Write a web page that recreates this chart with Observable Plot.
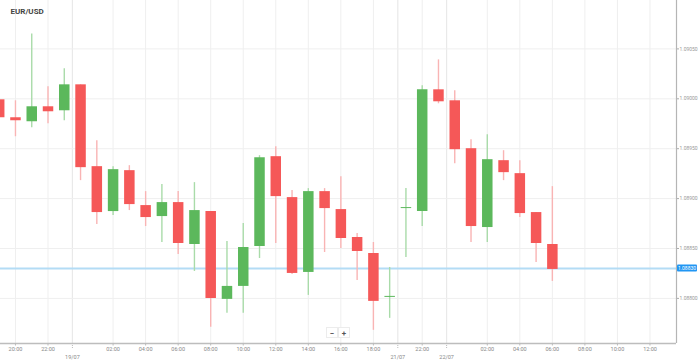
<!DOCTYPE html>
<html><head><meta charset="utf-8">
<script src="https://cdn.jsdelivr.net/npm/d3@7"></script>
<script src="https://cdn.jsdelivr.net/npm/@observablehq/plot@0.6"></script>
<style>
body{margin:0;background:#fff;font-family:Roboto,sans-serif;}
#chart{position:relative;width:699px;height:361px;overflow:hidden;}
</style></head><body><div id="chart"></div>
<script>
const title = "EUR/USD";
const candleIndex = [-1,0,1,2,3,4,5,6,7,8,9,10,11,12,13,14,15,16,17,18,19,20,21,22,23,24,25,26,27,28,29,30,31,32,33];
const open  = [1.08999,1.08981,1.08977,1.08992,1.08988,1.09014,1.08932,1.08887,1.08928,1.08893,1.08882,1.08896,1.08854,1.08887,1.08799,1.08812,1.08852,1.08942,1.08901,1.08826,1.08907,1.08889,1.08861,1.08845,1.08801,1.08890,1.08887,1.09009,1.08998,1.08950,1.08871,1.08938,1.08925,1.08886,1.08854];
const high  = [1.09002,1.08998,1.09065,1.09012,1.09030,1.09014,1.08958,1.08932,1.08933,1.08907,1.08914,1.08907,1.08916,1.08887,1.08857,1.08875,1.08943,1.08952,1.08908,1.08910,1.08910,1.08922,1.08865,1.08856,1.08831,1.08910,1.09013,1.09039,1.09008,1.08959,1.08964,1.08948,1.08938,1.08886,1.08912];
const low   = [1.08975,1.08962,1.08971,1.08975,1.08978,1.08918,1.08874,1.08883,1.08888,1.08872,1.08856,1.08844,1.08827,1.08771,1.08785,1.08785,1.08840,1.08855,1.08824,1.08803,1.08846,1.08850,1.08818,1.08768,1.08780,1.08841,1.08872,1.08995,1.08935,1.08856,1.08856,1.08918,1.08881,1.08836,1.08817];
const close = [1.08981,1.08978,1.08992,1.08987,1.09014,1.08931,1.08886,1.08929,1.08894,1.08881,1.08896,1.08855,1.08888,1.08800,1.08812,1.08851,1.08941,1.08902,1.08825,1.08907,1.08890,1.08860,1.08847,1.08797,1.08802,1.08891,1.09009,1.08997,1.08949,1.08872,1.08939,1.08926,1.08885,1.08855,1.08829];

const timeTickIndex  = [0,2,6,8,10,12,14,16,18,20,22,25,29,31,33,35,37,39];
const timeTickLabels = ["20:00","22:00","02:00","04:00","06:00","08:00","10:00","12:00","14:00","16:00","18:00","22:00","02:00","04:00","06:00","08:00","10:00","12:00"];
const dateTickIndex  = [3.5,23.5,26.5];
const dateTickLabels = ["19/07","21/07","22/07"];
const priceTicks = [1.0880,1.0885,1.0890,1.0895,1.0900,1.0905];
const currentPrice = 1.08830;

const xDomain = [-0.92, 40.63];
const yDomain = [1.087548, 1.090985];

const candles = candleIndex.map((i, k) => ({i, open: open[k], high: high[k], low: low[k], close: close[k], up: close[k] >= open[k]}));
const timeLabel = new Map(timeTickIndex.map((d, k) => [d, timeTickLabels[k]]));
const dateLabel = new Map(dateTickIndex.map((d, k) => [d, dateTickLabels[k]]));

const GREEN = "#5cb85c", RED = "#f55858";
const GREEN_W = "#a9dba9", RED_W = "#f9b4b4";

const chart = Plot.plot({
  width: 699, height: 361,
  marginTop: 0, marginBottom: 18, marginLeft: 0, marginRight: 23,
  style: {fontFamily: "Roboto, sans-serif", background: "#fff", overflow: "visible"},
  x: {type: "linear", domain: xDomain, axis: null, label: null},
  y: {type: "linear", domain: yDomain, axis: null, label: null},
  marks: [
    Plot.gridX(timeTickIndex, {stroke: "#efefef", strokeOpacity: 1}),
    Plot.gridX(dateTickIndex, {stroke: "#e9e9e9", strokeOpacity: 1, strokeWidth: 1.2}),
    Plot.gridY(priceTicks, {stroke: "#efefef", strokeOpacity: 1}),
    Plot.ruleY([currentPrice], {stroke: "#b3dcf5", strokeWidth: 2}),
    Plot.ruleX(candles, {x: "i", y1: "low", y2: "high", stroke: d => d.up ? GREEN_W : RED_W, strokeWidth: 1.4}),
    Plot.ruleX(candles, {x: "i", y1: "open", y2: "close", stroke: d => d.up ? GREEN : RED, strokeWidth: 10.5}),
    Plot.ruleY([yDomain[0]], {stroke: "#bdbdbd", strokeWidth: 1.5}),
    Plot.ruleX([xDomain[1]], {stroke: "#b5b5b5", strokeWidth: 1.2}),
    Plot.axisX(timeTickIndex, {label: null, tickSize: 2.5, tickPadding: 1.5, fontSize: 5.5, stroke: "#bbb", fill: "#888", tickFormat: d => timeLabel.get(d)}),
    Plot.axisX(dateTickIndex, {label: null, tickSize: 6, tickPadding: 6, fontSize: 5.5, stroke: "#bbb", strokeDasharray: "1,1", fill: "#888", tickFormat: d => dateLabel.get(d)}),
    Plot.axisY(priceTicks, {label: null, anchor: "right", tickSize: 2, tickPadding: 1, fontSize: 5, stroke: "#aaa", fill: "#999", tickFormat: d3.format(".5f")}),
    Plot.text([title], {frameAnchor: "top-left", dx: 10, dy: 8, fontSize: 8, fontWeight: "bold", fill: "#444", textAnchor: "start", lineAnchor: "top"})
  ]
});
document.getElementById("chart").appendChild(chart);

// current price label on the right axis, positioned through the scales
const svg = d3.select(chart);
const yPx = chart.scale("y").apply(currentPrice);
const xPx = chart.scale("x").apply(xDomain[1]);
const g = svg.append("g");
g.append("rect").attr("x", xPx + 1).attr("y", yPx - 3.5).attr("width", 20).attr("height", 7).attr("rx", 1).attr("fill", "#2196f3");
g.append("text").attr("x", xPx + 11).attr("y", yPx).attr("dy", "0.35em").attr("text-anchor", "middle")
  .attr("font-size", 5).attr("fill", "#fff").attr("font-family", "Roboto, sans-serif").text(d3.format(".5f")(currentPrice));

// zoom buttons
const btn = svg.append("g").attr("font-family", "Roboto, sans-serif");
[["\u2212", 332], ["+", 344]].forEach(([t, cx]) => {
  btn.append("rect").attr("x", cx - 5.5).attr("y", 327.5).attr("width", 11).attr("height", 10).attr("fill", "#fff").attr("stroke", "#ececec");
  btn.append("text").attr("x", cx).attr("y", 333).attr("dy", "0.35em").attr("text-anchor", "middle").attr("font-size", 8).attr("font-weight", "bold").attr("fill", "#555").text(t);
});
</script>
</body></html>
